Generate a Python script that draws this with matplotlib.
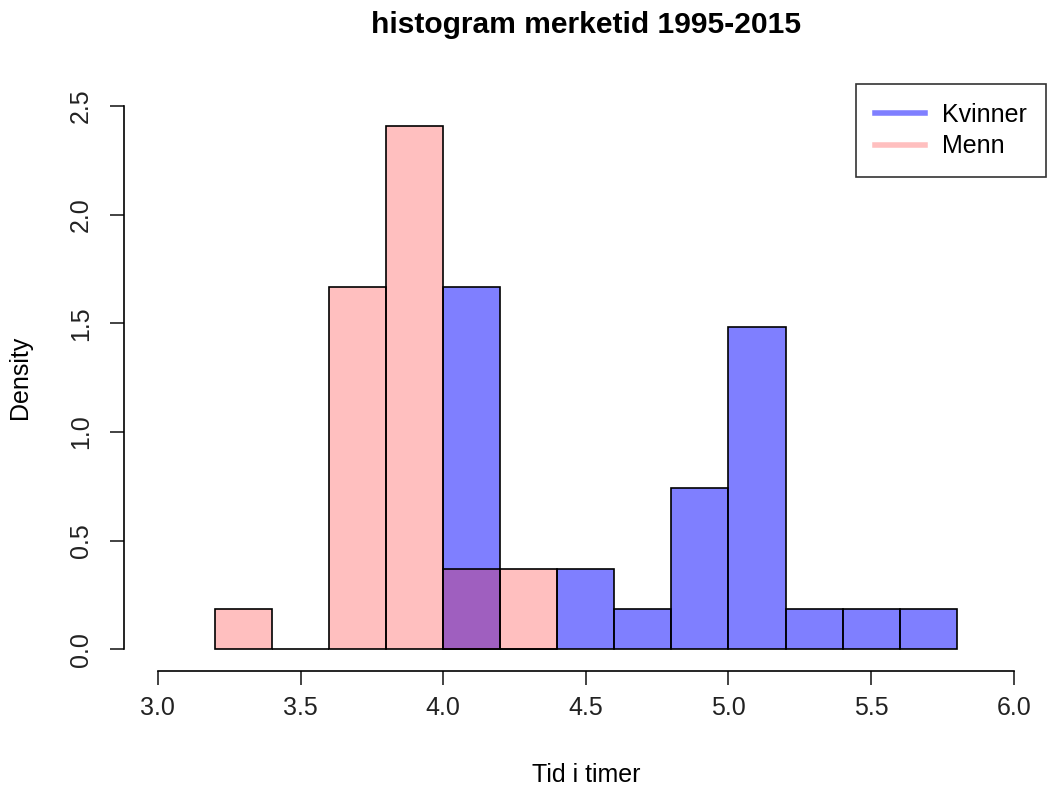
import matplotlib.pyplot as plt
import numpy as np

plt.rcParams['font.family'] = ['Liberation Sans', 'DejaVu Sans']

# bin edges (width 0.2) and density values
kvinner_edges = [4.0, 4.2, 4.4, 4.6, 4.8, 5.0, 5.2, 5.4, 5.6, 5.8]
kvinner_density = [1.667, 0.0, 0.370, 0.185, 0.741, 1.481, 0.185, 0.185, 0.185]
menn_edges = [3.2, 3.4, 3.6, 3.8, 4.0, 4.2, 4.4]
menn_density = [0.185, 0.0, 1.667, 2.407, 0.370, 0.370]

x_ticks = [3.0, 3.5, 4.0, 4.5, 5.0, 5.5, 6.0]
y_ticks = [0.0, 0.5, 1.0, 1.5, 2.0, 2.5]

blue = (0, 0, 1, 0.5)
pink = (1, 0, 0, 0.25)
fs = 18

fig = plt.figure(figsize=(10.48, 7.88), dpi=100)
ax = fig.add_axes([0.118, 0.1485, 0.882, 0.7445])

ke = np.array(kvinner_edges)
ax.bar(ke[:-1], kvinner_density, width=np.diff(ke), align='edge',
       color=blue, edgecolor='black', linewidth=1.2)
me = np.array(menn_edges)
ax.bar(me[:-1], menn_density, width=np.diff(me), align='edge',
       color=pink, edgecolor='black', linewidth=1.2)

ax.set_xlim(2.88, 6.12)
ax.set_ylim(-0.1, 2.6)
ax.set_xticks(x_ticks)
ax.set_xticklabels([f'{v:.1f}' for v in x_ticks])
ax.set_yticks(y_ticks)
ax.set_yticklabels([f'{v:.1f}' for v in y_ticks], rotation=90, va='center')

for s in ['top', 'right']:
    ax.spines[s].set_visible(False)
ax.spines['bottom'].set_bounds(3.0, 6.0)
ax.spines['left'].set_bounds(0.0, 2.5)
ax.spines['bottom'].set_linewidth(1.2)
ax.spines['left'].set_linewidth(1.2)
ax.tick_params(length=10, width=1.2, labelsize=fs, colors='#222222')
ax.tick_params(axis='x', pad=8)
ax.tick_params(axis='y', pad=12)

ax.set_xlabel('Tid i timer', fontsize=fs, va='center')
ax.xaxis.set_label_coords(0.5, -0.177)
ax.set_ylabel('Density', fontsize=fs, va='center')
ax.yaxis.set_label_coords(-0.112, 0.5)
fig.text(0.559, 0.968, 'histogram merketid 1995-2015', fontsize=21.6,
         fontweight='bold', ha='center', va='center')

leg = ax.legend(handles=[plt.Line2D([], [], color=blue, lw=4),
                         plt.Line2D([], [], color=pink, lw=4)],
                labels=['Kvinner', 'Menn'], loc='upper right',
                bbox_to_anchor=(1046 / 1048, 1 - 84 / 788),
                bbox_transform=fig.transFigure, borderaxespad=0,
                fontsize=fs, frameon=True, fancybox=False, edgecolor='black',
                handlelength=2.0, handletextpad=0.7, borderpad=0.75,
                labelspacing=0.3)
leg.get_frame().set_linewidth(1.2)

fig.savefig('out.png', dpi=100)
